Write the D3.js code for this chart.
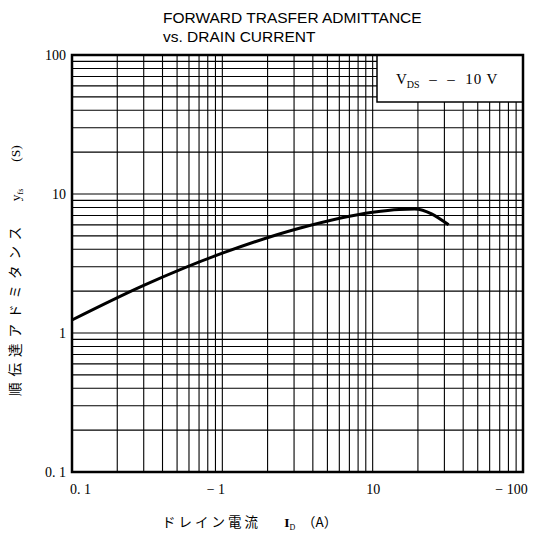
<!DOCTYPE html>
<html>
<head>
<meta charset="utf-8">
<script src="https://cdn.jsdelivr.net/npm/d3@7/dist/d3.min.js"></script>
<style>
  body { margin: 0; background: #fff; }
  .tick text { font-family: "Liberation Serif", serif; font-size: 14px; fill: #000; }
  .title { font-family: "Liberation Sans", Arial, sans-serif; font-size: 15.5px; }
  .axisText { font-family: "Noto Sans CJK JP", sans-serif; font-size: 13.5px; }
</style>
</head>
<body>
<div class="chart"></div>
<script>
// forward transfer admittance vs drain current, log-log

// curve
var drainCurrent = [0.1, 0.3, 1, 3.3, 10, 15, 19, 32];
var admittance   = [1.24, 2.2, 3.75, 5.7, 7.4, 7.75, 7.8, 6.0];

var xTicks = [0.1, 1, 10, 100];
var xTickLabels = ["0. 1", "\u2212 1", "10", "\u2212 100"];
var yTicks = [0.1, 1, 10, 100];
var yTickLabels = ["0. 1", "1", "10", "100"];

var svgWidth = 537;
var svgHeight = 544;

var margin = { top: 55, right: 14, bottom: 72, left: 72 };
var width = 523 - margin.left;
var height = 472 - margin.top;

var svg = d3.select(".chart")
    .append("svg")
    .attr("width", svgWidth)
    .attr("height", svgHeight);

var chart = svg.append("g")
    .attr("transform", "translate(" + margin.left + "," + margin.top + ")");

var xLogScale = d3.scaleLog().domain([0.1, 100]).range([0, width]);
var yLogScale = d3.scaleLog().domain([0.1, 100]).range([height, 0]);

// grid values 1..9 in each decade
var gridVals = [];
[0.1, 1, 10].forEach(function(d) {
    for (var k = 1; k <= 9; k++) gridVals.push(d * k);
});

chart.append("g").selectAll("line.vg")
    .data(gridVals)
    .enter().append("line")
    .attr("x1", function(d) { return xLogScale(d); })
    .attr("x2", function(d) { return xLogScale(d); })
    .attr("y1", 0)
    .attr("y2", height)
    .attr("stroke", "#000")
    .attr("stroke-width", 1.1);

chart.append("g").selectAll("line.hg")
    .data(gridVals)
    .enter().append("line")
    .attr("x1", 0)
    .attr("x2", width)
    .attr("y1", function(d) { return yLogScale(d); })
    .attr("y2", function(d) { return yLogScale(d); })
    .attr("stroke", "#000")
    .attr("stroke-width", 1.1);

// curve
var line = d3.line()
    .x(function(d, i) { return xLogScale(drainCurrent[i]); })
    .y(function(d) { return yLogScale(d); })
    .curve(d3.curveMonotoneX);

chart.append("path")
    .datum(admittance)
    .attr("d", line)
    .attr("fill", "none")
    .attr("stroke", "#000")
    .attr("stroke-width", 3);

// legend box
chart.append("rect")
    .attr("x", 305)
    .attr("y", 0)
    .attr("width", width - 305)
    .attr("height", 47)
    .attr("fill", "#fff")
    .attr("stroke", "#000")
    .attr("stroke-width", 1.5);

var leg = chart.append("text")
    .attr("x", 324)
    .attr("y", 29)
    .attr("font-family", "Liberation Serif, serif")
    .attr("font-size", 15);
leg.append("tspan").text("V");
leg.append("tspan").attr("dy", 4).attr("font-size", 10).text("DS");
leg.append("tspan").attr("dy", -4)
    .text("\u00a0\u00a0\u2013\u00a0\u00a0\u2013\u00a0\u00a010 V")
    .attr("letter-spacing", 1);

// frame
chart.append("rect")
    .attr("x", 0)
    .attr("y", 0)
    .attr("width", width)
    .attr("height", height)
    .attr("fill", "none")
    .attr("stroke", "#000")
    .attr("stroke-width", 2.5);

// axes
var bottomAxis = d3.axisBottom(xLogScale)
    .tickValues(xTicks)
    .tickSize(0)
    .tickPadding(12)
    .tickFormat(function(d, i) { return xTickLabels[i]; });

var leftAxis = d3.axisLeft(yLogScale)
    .tickValues(yTicks)
    .tickSize(0)
    .tickPadding(6)
    .tickFormat(function(d, i) { return yTickLabels[i]; });

var xAxisG = chart.append("g")
    .attr("transform", "translate(0," + height + ")")
    .call(bottomAxis);
xAxisG.select(".domain").remove();
xAxisG.selectAll(".tick text")
    .attr("dx", function(d, i) { return [8, -7, 0, -12][i]; });

var yAxisG = chart.append("g").call(leftAxis);
yAxisG.select(".domain").remove();

// title
svg.append("text")
    .attr("class", "title")
    .attr("x", 163)
    .attr("y", 23)
    .text("FORWARD TRASFER ADMITTANCE");
svg.append("text")
    .attr("class", "title")
    .attr("x", 163)
    .attr("y", 42)
    .text("vs. DRAIN CURRENT");

// y axis label
var yLab = svg.append("text")
    .attr("class", "axisText")
    .attr("transform", "translate(20,396) rotate(-90)")
    .attr("letter-spacing", 6);
yLab.append("tspan").text("順伝達アドミタンス　");
yLab.append("tspan").attr("font-family", "Liberation Serif, serif").attr("letter-spacing", 0).text("y");
yLab.append("tspan").attr("font-family", "Liberation Serif, serif").attr("font-size", 8).attr("dy", 3).attr("letter-spacing", 0).text("fs");
yLab.append("tspan").attr("dy", -3).attr("font-family", "Liberation Serif, serif").attr("letter-spacing", 0).text("\u2003\u2003(S)");

// x axis label
var xLab = svg.append("text")
    .attr("class", "axisText")
    .attr("x", 162)
    .attr("y", 527)
    .attr("letter-spacing", 3);
xLab.append("tspan").text("ドレイン電流　");
xLab.append("tspan").attr("font-family", "Liberation Serif, serif").attr("font-weight", "bold").attr("letter-spacing", 0).text("\u2002I");
xLab.append("tspan").attr("font-family", "Liberation Serif, serif").attr("font-size", 8).attr("dy", 3).attr("letter-spacing", 0).text("D");
xLab.append("tspan").attr("dy", -3).attr("letter-spacing", 0).text("\u2002（A）");
</script>
</body>
</html>
